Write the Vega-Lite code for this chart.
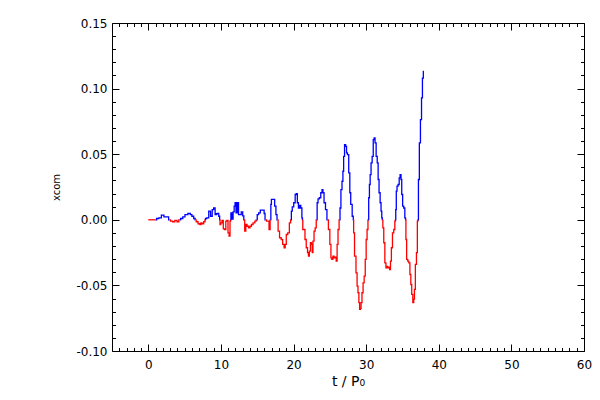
{
  "$schema": "https://vega.github.io/schema/vega-lite/v6.json",
  "width": 472,
  "height": 328,
  "autosize": {"type": "none"},
  "padding": {"left": 112, "top": 23, "right": 16, "bottom": 49},
  "background": "white",
  "config": {
    "view": {"stroke": null},
    "axis": {
      "labelFont": "DejaVu Sans", "labelFontSize": 12, "labelColor": "black",
      "titleFont": "DejaVu Sans", "titleFontWeight": "normal", "titleColor": "black",
      "domainColor": "black", "tickColor": "black", "grid": false,
      "labelFlush": false, "labelOverlap": false
    }
  },
  "data": {"values": [
    {"t":0,"v":0,"s":1,"c":"neg"},{"t":1.0,"v":0,"s":1,"c":"neg"},
    {"t":1.0,"v":0,"s":2,"c":"pos"},{"t":1.3,"v":0.001,"s":2,"c":"pos"},{"t":1.6,"v":0.0015,"s":2,"c":"pos"},{"t":2.0,"v":0.0035,"s":2,"c":"pos"},{"t":2.3,"v":0.0023,"s":2,"c":"pos"},{"t":2.7,"v":0.0023,"s":2,"c":"pos"},{"t":2.9,"v":0,"s":2,"c":"pos"},
    {"t":2.9,"v":0,"s":3,"c":"neg"},{"t":3.2,"v":-0.001,"s":3,"c":"neg"},{"t":3.5,"v":-0.0015,"s":3,"c":"neg"},{"t":3.8,"v":-0.0005,"s":3,"c":"neg"},{"t":4.1,"v":-0.0015,"s":3,"c":"neg"},{"t":4.3,"v":0,"s":3,"c":"neg"},
    {"t":4.3,"v":0,"s":4,"c":"pos"},{"t":4.6,"v":0.001,"s":4,"c":"pos"},{"t":4.9,"v":0.0023,"s":4,"c":"pos"},{"t":5.2,"v":0.004,"s":4,"c":"pos"},{"t":5.7,"v":0.0048,"s":4,"c":"pos"},{"t":5.9,"v":0.004,"s":4,"c":"pos"},{"t":6.1,"v":0.0027,"s":4,"c":"pos"},{"t":6.4,"v":0.001,"s":4,"c":"pos"},{"t":6.5,"v":0,"s":4,"c":"pos"},
    {"t":6.5,"v":0,"s":5,"c":"neg"},{"t":6.7,"v":-0.0015,"s":5,"c":"neg"},{"t":7.0,"v":-0.003,"s":5,"c":"neg"},{"t":7.2,"v":-0.0036,"s":5,"c":"neg"},{"t":7.3,"v":-0.0023,"s":5,"c":"neg"},{"t":7.5,"v":-0.003,"s":5,"c":"neg"},{"t":7.75,"v":-0.0015,"s":5,"c":"neg"},{"t":7.85,"v":0,"s":5,"c":"neg"},
    {"t":7.85,"v":0,"s":6,"c":"pos"},{"t":7.9,"v":0.001,"s":6,"c":"pos"},{"t":8.2,"v":0.0015,"s":6,"c":"pos"},{"t":8.45,"v":0.0066,"s":6,"c":"pos"},{"t":8.7,"v":0.0027,"s":6,"c":"pos"},{"t":8.9,"v":0.0078,"s":6,"c":"pos"},{"t":9.1,"v":0.009,"s":6,"c":"pos"},{"t":9.3,"v":0.004,"s":6,"c":"pos"},{"t":9.45,"v":0.0046,"s":6,"c":"pos"},{"t":9.6,"v":0.0048,"s":6,"c":"pos"},{"t":9.8,"v":0.0027,"s":6,"c":"pos"},{"t":9.85,"v":0,"s":6,"c":"pos"},
    {"t":9.85,"v":0,"s":7,"c":"neg"},{"t":9.9,"v":-0.0036,"s":7,"c":"neg"},{"t":10.05,"v":-0.0023,"s":7,"c":"neg"},{"t":10.25,"v":-0.0005,"s":7,"c":"neg"},{"t":10.4,"v":-0.0069,"s":7,"c":"neg"},{"t":10.6,"v":-0.0074,"s":7,"c":"neg"},{"t":10.75,"v":-0.001,"s":7,"c":"neg"},{"t":10.9,"v":-0.0005,"s":7,"c":"neg"},{"t":11.05,"v":-0.0099,"s":7,"c":"neg"},{"t":11.2,"v":-0.0125,"s":7,"c":"neg"},{"t":11.3,"v":-0.001,"s":7,"c":"neg"},{"t":11.35,"v":0,"s":7,"c":"neg"},
    {"t":11.35,"v":0,"s":8,"c":"pos"},{"t":11.4,"v":0.0053,"s":8,"c":"pos"},{"t":11.6,"v":0.0005,"s":8,"c":"pos"},{"t":11.75,"v":0.006,"s":8,"c":"pos"},{"t":11.9,"v":0.0104,"s":8,"c":"pos"},{"t":12.0,"v":0.013,"s":8,"c":"pos"},{"t":12.15,"v":0.0053,"s":8,"c":"pos"},{"t":12.35,"v":0.013,"s":8,"c":"pos"},{"t":12.5,"v":0.004,"s":8,"c":"pos"},{"t":12.7,"v":0.004,"s":8,"c":"pos"},{"t":12.9,"v":0.006,"s":8,"c":"pos"},{"t":13.1,"v":0.003,"s":8,"c":"pos"},{"t":13.2,"v":0,"s":8,"c":"pos"},
    {"t":13.2,"v":0,"s":9,"c":"neg"},{"t":13.35,"v":-0.0087,"s":9,"c":"neg"},{"t":13.5,"v":-0.0036,"s":9,"c":"neg"},{"t":13.7,"v":-0.0049,"s":9,"c":"neg"},{"t":13.9,"v":-0.0061,"s":9,"c":"neg"},{"t":14.1,"v":-0.0049,"s":9,"c":"neg"},{"t":14.3,"v":-0.0036,"s":9,"c":"neg"},{"t":14.55,"v":-0.0023,"s":9,"c":"neg"},{"t":14.8,"v":-0.001,"s":9,"c":"neg"},{"t":14.9,"v":0,"s":9,"c":"neg"},
    {"t":14.9,"v":0,"s":10,"c":"pos"},{"t":15.1,"v":0.004,"s":10,"c":"pos"},{"t":15.3,"v":0.0053,"s":10,"c":"pos"},{"t":15.55,"v":0.0073,"s":10,"c":"pos"},{"t":15.9,"v":0.0073,"s":10,"c":"pos"},{"t":16.0,"v":0.0048,"s":10,"c":"pos"},{"t":16.15,"v":0,"s":10,"c":"pos"},
    {"t":16.15,"v":0,"s":11,"c":"neg"},{"t":16.4,"v":-0.001,"s":11,"c":"neg"},{"t":16.55,"v":-0.001,"s":11,"c":"neg"},{"t":16.7,"v":-0.0074,"s":11,"c":"neg"},{"t":16.85,"v":0,"s":11,"c":"neg"},
    {"t":16.85,"v":0,"s":12,"c":"pos"},{"t":16.9,"v":0.0117,"s":12,"c":"pos"},{"t":17.0,"v":0.0155,"s":12,"c":"pos"},{"t":17.3,"v":0.0155,"s":12,"c":"pos"},{"t":17.5,"v":0.0104,"s":12,"c":"pos"},{"t":17.65,"v":0.004,"s":12,"c":"pos"},{"t":17.8,"v":0,"s":12,"c":"pos"},
    {"t":17.8,"v":0,"s":13,"c":"neg"},{"t":17.95,"v":-0.0087,"s":13,"c":"neg"},{"t":18.2,"v":-0.0137,"s":13,"c":"neg"},{"t":18.4,"v":-0.015,"s":13,"c":"neg"},{"t":18.6,"v":-0.0188,"s":13,"c":"neg"},{"t":18.8,"v":-0.0213,"s":13,"c":"neg"},{"t":18.9,"v":-0.0188,"s":13,"c":"neg"},{"t":19.1,"v":-0.0112,"s":13,"c":"neg"},{"t":19.3,"v":-0.0099,"s":13,"c":"neg"},{"t":19.55,"v":-0.0023,"s":13,"c":"neg"},{"t":19.65,"v":0,"s":13,"c":"neg"},
    {"t":19.65,"v":0,"s":14,"c":"pos"},{"t":19.75,"v":0.0066,"s":14,"c":"pos"},{"t":19.9,"v":0.0099,"s":14,"c":"pos"},{"t":20.15,"v":0.013,"s":14,"c":"pos"},{"t":20.3,"v":0.0193,"s":14,"c":"pos"},{"t":20.45,"v":0.02,"s":14,"c":"pos"},{"t":20.6,"v":0.013,"s":14,"c":"pos"},{"t":20.75,"v":0.009,"s":14,"c":"pos"},{"t":20.9,"v":0.011,"s":14,"c":"pos"},{"t":21.1,"v":0.009,"s":14,"c":"pos"},{"t":21.2,"v":0.0015,"s":14,"c":"pos"},{"t":21.25,"v":0,"s":14,"c":"pos"},
    {"t":21.25,"v":0,"s":15,"c":"neg"},{"t":21.3,"v":-0.0074,"s":15,"c":"neg"},{"t":21.5,"v":-0.0074,"s":15,"c":"neg"},{"t":21.65,"v":-0.015,"s":15,"c":"neg"},{"t":21.85,"v":-0.0213,"s":15,"c":"neg"},{"t":22.0,"v":-0.025,"s":15,"c":"neg"},{"t":22.1,"v":-0.0277,"s":15,"c":"neg"},{"t":22.25,"v":-0.0239,"s":15,"c":"neg"},{"t":22.4,"v":-0.0175,"s":15,"c":"neg"},{"t":22.55,"v":-0.0188,"s":15,"c":"neg"},{"t":22.6,"v":-0.025,"s":15,"c":"neg"},{"t":22.75,"v":-0.0163,"s":15,"c":"neg"},{"t":22.9,"v":-0.0087,"s":15,"c":"neg"},{"t":23.05,"v":-0.0061,"s":15,"c":"neg"},{"t":23.2,"v":0,"s":15,"c":"neg"},
    {"t":23.2,"v":0,"s":16,"c":"pos"},{"t":23.3,"v":0.013,"s":16,"c":"pos"},{"t":23.45,"v":0.016,"s":16,"c":"pos"},{"t":23.65,"v":0.0168,"s":16,"c":"pos"},{"t":23.85,"v":0.0206,"s":16,"c":"pos"},{"t":24.0,"v":0.023,"s":16,"c":"pos"},{"t":24.1,"v":0.0206,"s":16,"c":"pos"},{"t":24.3,"v":0.013,"s":16,"c":"pos"},{"t":24.5,"v":0.0078,"s":16,"c":"pos"},{"t":24.7,"v":0,"s":16,"c":"pos"},
    {"t":24.7,"v":0,"s":17,"c":"neg"},{"t":24.9,"v":-0.0074,"s":17,"c":"neg"},{"t":25.1,"v":-0.0188,"s":17,"c":"neg"},{"t":25.2,"v":-0.029,"s":17,"c":"neg"},{"t":25.35,"v":-0.0302,"s":17,"c":"neg"},{"t":25.5,"v":-0.0277,"s":17,"c":"neg"},{"t":25.65,"v":-0.029,"s":17,"c":"neg"},{"t":25.8,"v":-0.0285,"s":17,"c":"neg"},{"t":25.95,"v":-0.0315,"s":17,"c":"neg"},{"t":26.05,"v":-0.0188,"s":17,"c":"neg"},{"t":26.2,"v":-0.0074,"s":17,"c":"neg"},{"t":26.35,"v":0,"s":17,"c":"neg"},
    {"t":26.35,"v":0,"s":18,"c":"pos"},{"t":26.45,"v":0.009,"s":18,"c":"pos"},{"t":26.6,"v":0.023,"s":18,"c":"pos"},{"t":26.75,"v":0.0294,"s":18,"c":"pos"},{"t":26.85,"v":0.037,"s":18,"c":"pos"},{"t":26.95,"v":0.0484,"s":18,"c":"pos"},{"t":27.1,"v":0.0573,"s":18,"c":"pos"},{"t":27.25,"v":0.056,"s":18,"c":"pos"},{"t":27.35,"v":0.051,"s":18,"c":"pos"},{"t":27.5,"v":0.0497,"s":18,"c":"pos"},{"t":27.7,"v":0.0358,"s":18,"c":"pos"},{"t":27.8,"v":0.0206,"s":18,"c":"pos"},{"t":27.95,"v":0.0117,"s":18,"c":"pos"},{"t":28.2,"v":0.0027,"s":18,"c":"pos"},{"t":28.25,"v":0,"s":18,"c":"pos"},
    {"t":28.25,"v":0,"s":19,"c":"neg"},{"t":28.3,"v":-0.0099,"s":19,"c":"neg"},{"t":28.5,"v":-0.0277,"s":19,"c":"neg"},{"t":28.7,"v":-0.0404,"s":19,"c":"neg"},{"t":28.8,"v":-0.0506,"s":19,"c":"neg"},{"t":28.95,"v":-0.0556,"s":19,"c":"neg"},{"t":29.05,"v":-0.0632,"s":19,"c":"neg"},{"t":29.15,"v":-0.0683,"s":19,"c":"neg"},{"t":29.25,"v":-0.0675,"s":19,"c":"neg"},{"t":29.35,"v":-0.0632,"s":19,"c":"neg"},{"t":29.5,"v":-0.0556,"s":19,"c":"neg"},{"t":29.65,"v":-0.048,"s":19,"c":"neg"},{"t":29.8,"v":-0.043,"s":19,"c":"neg"},{"t":29.95,"v":-0.0302,"s":19,"c":"neg"},{"t":30.05,"v":-0.015,"s":19,"c":"neg"},{"t":30.2,"v":-0.0074,"s":19,"c":"neg"},{"t":30.3,"v":0,"s":19,"c":"neg"},
    {"t":30.3,"v":0,"s":20,"c":"pos"},{"t":30.4,"v":0.0168,"s":20,"c":"pos"},{"t":30.5,"v":0.0269,"s":20,"c":"pos"},{"t":30.6,"v":0.0345,"s":20,"c":"pos"},{"t":30.75,"v":0.0434,"s":20,"c":"pos"},{"t":30.9,"v":0.0484,"s":20,"c":"pos"},{"t":31.05,"v":0.0611,"s":20,"c":"pos"},{"t":31.15,"v":0.0624,"s":20,"c":"pos"},{"t":31.3,"v":0.0586,"s":20,"c":"pos"},{"t":31.45,"v":0.0484,"s":20,"c":"pos"},{"t":31.6,"v":0.0434,"s":20,"c":"pos"},{"t":31.7,"v":0.0307,"s":20,"c":"pos"},{"t":31.85,"v":0.0206,"s":20,"c":"pos"},{"t":32.0,"v":0.013,"s":20,"c":"pos"},{"t":32.1,"v":0.0066,"s":20,"c":"pos"},{"t":32.2,"v":0.0015,"s":20,"c":"pos"},{"t":32.25,"v":0,"s":20,"c":"pos"},
    {"t":32.25,"v":0,"s":21,"c":"neg"},{"t":32.35,"v":-0.0061,"s":21,"c":"neg"},{"t":32.5,"v":-0.0175,"s":21,"c":"neg"},{"t":32.65,"v":-0.0328,"s":21,"c":"neg"},{"t":32.8,"v":-0.0366,"s":21,"c":"neg"},{"t":32.9,"v":-0.0355,"s":21,"c":"neg"},{"t":33.0,"v":-0.0366,"s":21,"c":"neg"},{"t":33.15,"v":-0.036,"s":21,"c":"neg"},{"t":33.3,"v":-0.0379,"s":21,"c":"neg"},{"t":33.4,"v":-0.0315,"s":21,"c":"neg"},{"t":33.55,"v":-0.0213,"s":21,"c":"neg"},{"t":33.7,"v":-0.0099,"s":21,"c":"neg"},{"t":33.9,"v":-0.0074,"s":21,"c":"neg"},{"t":34.0,"v":-0.001,"s":21,"c":"neg"},{"t":34.05,"v":0,"s":21,"c":"neg"},
    {"t":34.05,"v":0,"s":22,"c":"pos"},{"t":34.1,"v":0.0078,"s":22,"c":"pos"},{"t":34.2,"v":0.0218,"s":22,"c":"pos"},{"t":34.3,"v":0.0256,"s":22,"c":"pos"},{"t":34.5,"v":0.0269,"s":22,"c":"pos"},{"t":34.6,"v":0.032,"s":22,"c":"pos"},{"t":34.75,"v":0.0345,"s":22,"c":"pos"},{"t":34.85,"v":0.0307,"s":22,"c":"pos"},{"t":34.95,"v":0.0193,"s":22,"c":"pos"},{"t":35.1,"v":0.0104,"s":22,"c":"pos"},{"t":35.25,"v":0.009,"s":22,"c":"pos"},{"t":35.4,"v":0.0015,"s":22,"c":"pos"},{"t":35.45,"v":0,"s":22,"c":"pos"},
    {"t":35.45,"v":0,"s":23,"c":"neg"},{"t":35.5,"v":-0.015,"s":23,"c":"neg"},{"t":35.65,"v":-0.0302,"s":23,"c":"neg"},{"t":35.8,"v":-0.0315,"s":23,"c":"neg"},{"t":35.95,"v":-0.0328,"s":23,"c":"neg"},{"t":36.1,"v":-0.0417,"s":23,"c":"neg"},{"t":36.2,"v":-0.0493,"s":23,"c":"neg"},{"t":36.35,"v":-0.0569,"s":23,"c":"neg"},{"t":36.5,"v":-0.0632,"s":23,"c":"neg"},{"t":36.6,"v":-0.0605,"s":23,"c":"neg"},{"t":36.7,"v":-0.0531,"s":23,"c":"neg"},{"t":36.85,"v":-0.034,"s":23,"c":"neg"},{"t":37.0,"v":-0.025,"s":23,"c":"neg"},{"t":37.1,"v":-0.001,"s":23,"c":"neg"},{"t":37.15,"v":0,"s":23,"c":"neg"},
    {"t":37.15,"v":0,"s":24,"c":"pos"},{"t":37.25,"v":0.0307,"s":24,"c":"pos"},{"t":37.4,"v":0.0586,"s":24,"c":"pos"},{"t":37.55,"v":0.0764,"s":24,"c":"pos"},{"t":37.7,"v":0.0929,"s":24,"c":"pos"},{"t":37.8,"v":0.108,"s":24,"c":"pos"},{"t":37.95,"v":0.1132,"s":24,"c":"pos"}
  ]},
  "resolve": {"scale": {"x": "shared", "y": "shared"}, "axis": {"x": "independent", "y": "independent"}},
  "layer": [
    {
      "mark": {"type": "line", "interpolate": "step", "strokeWidth": 1.3, "clip": true},
      "encoding": {
        "x": {"field": "t", "type": "quantitative",
              "scale": {"domain": [-5, 60], "nice": false, "zero": false},
              "axis": {"orient": "bottom", "values": [0, 10, 20, 30, 40, 50, 60], "ticks": false, "domain": true,
                       "labelPadding": 8, "title": "t / P₀", "titleFontSize": 14, "titlePadding": 4}},
        "y": {"field": "v", "type": "quantitative",
              "scale": {"domain": [-0.1, 0.15], "nice": false, "zero": false},
              "axis": {"orient": "left", "values": [-0.1, -0.05, 0, 0.05, 0.1, 0.15], "ticks": false, "domain": true,
                       "labelPadding": 5, "labelExpr": "replace(format(datum.value, '.2f'), '\u2212', '-')",
                       "title": "xcom", "titleFontSize": 10, "titlePadding": 14}},
        "color": {"field": "c", "type": "nominal", "scale": {"domain": ["neg", "pos"], "range": ["#ff0000", "#0000ff"]}, "legend": null},
        "detail": {"field": "s", "type": "nominal"}
      }
    },
    {
      "mark": {"type": "point", "opacity": 0},
      "encoding": {
        "x": {"field": "t", "type": "quantitative", "axis": {"orient": "bottom", "values": [0, 10, 20, 30, 40, 50, 60], "tickSize": -7, "labels": false, "title": null, "domain": false}},
        "y": {"field": "v", "type": "quantitative", "axis": {"orient": "left", "values": [-0.1, -0.05, 0, 0.05, 0.1, 0.15], "tickSize": -7, "labels": false, "title": null, "domain": false}}
      }
    },
    {
      "mark": {"type": "point", "opacity": 0},
      "encoding": {
        "x": {"field": "t", "type": "quantitative", "axis": {"orient": "bottom", "values": [-4,-3,-2,-1,1,2,3,4,5,6,7,8,9,11,12,13,14,15,16,17,18,19,21,22,23,24,25,26,27,28,29,31,32,33,34,35,36,37,38,39,41,42,43,44,45,46,47,48,49,51,52,53,54,55,56,57,58,59], "tickSize": -3.5, "labels": false, "title": null, "domain": false}},
        "y": {"field": "v", "type": "quantitative", "axis": {"orient": "left", "values": [-0.09,-0.08,-0.07,-0.06,-0.04,-0.03,-0.02,-0.01,0.01,0.02,0.03,0.04,0.06,0.07,0.08,0.09,0.11,0.12,0.13,0.14], "tickSize": -3.5, "labels": false, "title": null, "domain": false}}
      }
    },
    {
      "mark": {"type": "point", "opacity": 0},
      "encoding": {
        "x": {"field": "t", "type": "quantitative", "axis": {"orient": "top", "values": [0, 10, 20, 30, 40, 50, 60], "tickSize": -7, "labels": false, "title": null, "domain": true}},
        "y": {"field": "v", "type": "quantitative", "axis": {"orient": "right", "values": [-0.1, -0.05, 0, 0.05, 0.1, 0.15], "tickSize": -7, "labels": false, "title": null, "domain": true}}
      }
    },
    {
      "mark": {"type": "point", "opacity": 0},
      "encoding": {
        "x": {"field": "t", "type": "quantitative", "axis": {"orient": "top", "values": [-4,-3,-2,-1,1,2,3,4,5,6,7,8,9,11,12,13,14,15,16,17,18,19,21,22,23,24,25,26,27,28,29,31,32,33,34,35,36,37,38,39,41,42,43,44,45,46,47,48,49,51,52,53,54,55,56,57,58,59], "tickSize": -3.5, "labels": false, "title": null, "domain": false}},
        "y": {"field": "v", "type": "quantitative", "axis": {"orient": "right", "values": [-0.09,-0.08,-0.07,-0.06,-0.04,-0.03,-0.02,-0.01,0.01,0.02,0.03,0.04,0.06,0.07,0.08,0.09,0.11,0.12,0.13,0.14], "tickSize": -3.5, "labels": false, "title": null, "domain": false}}
      }
    }
  ]
}
